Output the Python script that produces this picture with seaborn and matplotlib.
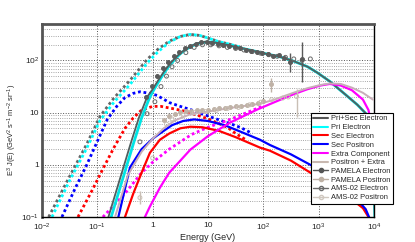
import numpy as np
import pandas as pd
import matplotlib
matplotlib.use("Agg")
import matplotlib.pyplot as plt
import seaborn as sns
from matplotlib.lines import Line2D
from matplotlib.ticker import LogLocator, FuncFormatter, NullFormatter

# ---- model curves, log10(E/GeV) and log10(E^3 J) ----
# unmodulated (dotted)
tot_lis_logE = [-1.88, -1.5, -1.2, -0.95, -0.7, -0.41, -0.1, 0.1, 0.3, 0.5, 0.68, 0.85, 1.0, 1.2, 1.4, 1.6]
tot_lis_logJ = [-1.0, -0.22, 0.38, 0.93, 1.28, 1.62, 2.02, 2.22, 2.37, 2.46, 2.5, 2.48, 2.43, 2.36, 2.31, 2.25]
pri_lis_logE = [-1.82, -1.5, -1.2, -0.95, -0.7, -0.41, -0.1, 0.1, 0.3, 0.5, 0.68, 0.85, 1.0, 1.2, 1.4, 1.6]
pri_lis_logJ = [-1.0, -0.3, 0.3, 0.85, 1.2, 1.54, 1.95, 2.17, 2.35, 2.46, 2.5, 2.48, 2.43, 2.36, 2.31, 2.25]
sece_lis_logE = [-1.35, -1.1, -0.9, -0.7, -0.5, -0.35, -0.2, 0.0, 0.15, 0.35, 0.62, 1.0, 1.35, 1.5, 1.7]
sece_lis_logJ = [-1.0, -0.5, -0.08, 0.33, 0.7, 0.9, 1.05, 1.12, 1.12, 1.08, 1.02, 0.88, 0.72, 0.6, 0.47]
secp_lis_logE = [-1.64, -1.4, -1.2, -1.0, -0.82, -0.65, -0.5, -0.35, -0.23, -0.05, 0.08, 0.31, 0.5, 0.68, 1.04, 1.45, 1.6, 1.8]
secp_lis_logJ = [-1.0, -0.45, -0.02, 0.45, 0.87, 1.12, 1.29, 1.37, 1.4, 1.37, 1.33, 1.19, 1.12, 1.06, 0.92, 0.77, 0.71, 0.6]
extra_lis_logE = [-0.9, -0.5, -0.2, 0.0, 0.3, 0.7, 1.0, 1.4, 1.7, 2.0]
extra_lis_logJ = [-1.0, -0.55, -0.15, 0.05, 0.3, 0.58, 0.72, 0.87, 1.0, 1.13]

# modulated (solid)
tot_logE = [-0.8, -0.6, -0.4, -0.25, -0.1, 0.0, 0.1, 0.2, 0.3, 0.4, 0.5, 0.6, 0.7, 0.8, 0.95, 1.1, 1.3,
            1.5, 1.8, 2.0, 2.3, 2.54, 2.8, 2.97, 3.2, 3.48, 3.7, 3.93, 3.97, 4.0, 4.02]
tot_logJ = [-1.0, -0.3, 0.4, 0.9, 1.3, 1.45, 1.62, 1.78, 1.92, 2.04, 2.14, 2.22, 2.28, 2.33, 2.36, 2.35, 2.31,
            2.26, 2.19, 2.14, 2.07, 1.99, 1.88, 1.77, 1.6, 1.35, 1.15, 0.9, 0.5, -0.3, -1.2]
pri_logE = [-0.75, -0.55, -0.35, -0.2, -0.07, 0.0, 0.1, 0.2, 0.3, 0.4, 0.5, 0.6, 0.7, 0.8, 0.95, 1.1, 1.3,
            1.5, 1.8, 2.0, 2.3, 2.54, 2.8, 2.97, 3.2, 3.48, 3.7, 3.93, 3.97, 4.0, 4.02]
pri_logJ = [-1.0, -0.3, 0.4, 0.9, 1.25, 1.4, 1.58, 1.75, 1.9, 2.02, 2.13, 2.21, 2.27, 2.32, 2.35, 2.35, 2.31,
            2.26, 2.19, 2.14, 2.07, 1.99, 1.88, 1.77, 1.6, 1.35, 1.15, 0.9, 0.5, -0.3, -1.2]
sece_logE = [-0.5, -0.35, -0.2, -0.05, 0.13, 0.3, 0.5, 0.68, 0.9, 1.2, 1.5, 1.94, 2.12, 2.5, 2.85, 3.2, 3.5, 3.8, 3.93]
sece_logJ = [-1.0, -0.55, -0.15, 0.23, 0.48, 0.6, 0.7, 0.73, 0.72, 0.65, 0.53, 0.33, 0.27, 0.08, -0.15, -0.38, -0.58, -0.83, -1.05]
secp_logE = [-0.62, -0.41, -0.2, 0.0, 0.13, 0.35, 0.55, 0.75, 1.0, 1.3, 1.6, 1.94, 2.12, 2.5, 2.85, 3.2, 3.5, 3.75, 3.85, 3.95]
secp_logJ = [-1.0, -0.05, 0.3, 0.5, 0.6, 0.76, 0.84, 0.87, 0.84, 0.76, 0.63, 0.48, 0.38, 0.2, 0.0, -0.2, -0.38, -0.73, -0.85, -1.1]
extra_logE = [-0.14, -0.05, 0.13, 0.3, 0.5, 0.68, 1.0, 1.4, 1.89, 2.2, 2.54, 2.8, 3.03, 3.2, 3.4, 3.6, 3.8, 3.9, 3.97, 4.01]
extra_logJ = [-1.0, -0.8, -0.44, -0.15, 0.08, 0.29, 0.55, 0.81, 1.06, 1.2, 1.35, 1.45, 1.52, 1.55, 1.52, 1.43, 1.25, 1.05, 0.7, -0.5]
posx_logE = [-0.68, -0.45, -0.2, 0.0, 0.2, 0.4, 0.68, 1.0, 1.4, 1.94, 2.2, 2.54, 2.8, 3.03, 3.2, 3.4, 3.6, 3.8, 3.98]
posx_logJ = [-1.0, -0.2, 0.25, 0.5, 0.7, 0.85, 0.97, 1.02, 1.09, 1.17, 1.25, 1.38, 1.47, 1.53, 1.56, 1.55, 1.48, 1.38, 1.25]

# ---- measurements ----
pam_e_logE = [-0.12, -0.02, 0.08, 0.18, 0.28, 0.38, 0.48, 0.58, 0.68, 0.78, 0.88, 0.98, 1.08, 1.18, 1.28,
              1.38, 1.48, 1.58, 1.68, 1.78, 1.88, 1.98, 2.08, 2.18, 2.28, 2.38, 2.48, 2.7]
pam_e_logJ = [1.3, 1.52, 1.7, 1.86, 1.98, 2.08, 2.16, 2.23, 2.28, 2.32, 2.35, 2.35, 2.34, 2.32, 2.3,
              2.28, 2.25, 2.23, 2.21, 2.18, 2.16, 2.15, 2.12, 2.08, 2.1, 2.04, 1.97, 2.02]
pam_e_lo = [None] * 26 + [1.77, 1.58]
pam_e_hi = [None] * 26 + [2.15, 2.35]

ams_e_logE = [-0.23, -0.1, 0.04, 0.15, 0.25, 0.35, 0.45, 0.6, 0.75, 0.9, 1.05, 1.2, 1.35, 1.5,
              1.65, 1.8, 1.95, 2.1, 2.25, 2.4, 2.55, 2.7, 2.85]
ams_e_logJ = [0.44, 0.98, 1.21, 1.5, 1.7, 1.88, 2.0, 2.15, 2.25, 2.3, 2.3, 2.28, 2.25, 2.23,
              2.2, 2.17, 2.14, 2.11, 2.08, 2.06, 2.03, 2.0, 2.03]

pam_p_logE = [0.2, 0.3, 0.4, 0.5, 0.6, 0.7, 0.8, 0.9, 1.0, 1.1, 1.2, 1.3, 1.4, 1.5, 1.6, 1.7, 1.8, 1.9, 2.0, 2.14]
pam_p_logJ = [0.85, 0.93, 0.98, 1.01, 1.03, 1.04, 1.05, 1.05, 1.06, 1.07, 1.08, 1.09, 1.1, 1.12, 1.13, 1.15, 1.17, 1.19, 1.22, 1.55]
pam_p_lo = [None] * 19 + [1.4]
pam_p_hi = [None] * 19 + [1.67]

ams_p_logE = [-0.23, 0.0, 0.25, 0.35, 0.55, 0.75, 0.95, 1.15, 1.35, 1.55, 1.75, 1.95, 2.15, 2.35, 2.45, 2.6]
ams_p_logJ = [-0.63, 0.13, 0.78, 0.88, 0.95, 1.0, 1.02, 1.04, 1.08, 1.1, 1.15, 1.2, 1.25, 1.28, 1.3, 1.31]
ams_p_lo = [-0.75] + [None] * 14 + [0.92]
ams_p_hi = [-0.5] + [None] * 14 + [1.45]

x_ticks = [1e-2, 1e-1, 1, 10, 1e2, 1e3, 1e4]
y_ticks = [0.1, 1, 10, 100]

# ---- style ----
sns.set_style("white")
plt.rcParams["font.family"] = ["Liberation Sans", "DejaVu Sans"]
plt.rcParams["mathtext.default"] = "regular"

fig = plt.figure(figsize=(4.15, 2.42), dpi=100)
ax = fig.add_axes([42 / 415, 25 / 242, 332 / 415, 193 / 242])


def draw(logE, logJ, color, ls="-", lw=1.4, z=2):
    d = pd.DataFrame({"E": np.power(10.0, logE), "J": np.power(10.0, logJ)})
    sns.lineplot(data=d, x="E", y="J", ax=ax, color=color, linestyle=ls, lw=lw,
                 sort=False, estimator=None, zorder=z)


dot = (0, (1, 1))
draw(tot_lis_logE, tot_lis_logJ, "#666666", dot, 2.0)
draw(pri_lis_logE, pri_lis_logJ, "#00ffff", dot, 2.0)
draw(secp_lis_logE, secp_lis_logJ, "#0000ff", dot, 2.0)
draw(sece_lis_logE, sece_lis_logJ, "#ff0000", dot, 2.0)
draw(extra_lis_logE, extra_lis_logJ, "#ff00ff", dot, 2.0)

draw(pri_logE, pri_logJ, "#00e5e5", "-", 2.0)
draw(tot_logE, tot_logJ, "#4f5f5f", "-", 1.3)
draw(sece_logE, sece_logJ, "#ff0000", "-", 1.6)
draw(secp_logE, secp_logJ, "#0000ff", "-", 1.6)
draw(extra_logE, extra_logJ, "#ff00ff", "-", 1.6)
draw(posx_logE, posx_logJ, "#c8aeb8", "-", 1.4, 3)


def points(logE, logJ, lo, hi, color, filled):
    d = pd.DataFrame({"E": np.power(10.0, logE), "J": np.power(10.0, logJ)})
    for e, l, h in zip(d["E"], lo, hi):
        if l is not None:
            ax.vlines(e, 10 ** l, 10 ** h, color=color, lw=1.0, zorder=4)
    sns.scatterplot(data=d, x="E", y="J", ax=ax, s=8, marker="o",
                    facecolor=color if filled else "none", edgecolor=color,
                    linewidth=0.7, zorder=5)


points(pam_p_logE, pam_p_logJ, pam_p_lo, pam_p_hi, "#bfb2a6", True)
points(ams_p_logE, ams_p_logJ, ams_p_lo, ams_p_hi, "#c9bfb5", False)
points(ams_e_logE, ams_e_logJ, [None] * len(ams_e_logE), [None] * len(ams_e_logE), "#6a6a6a", False)
points(pam_e_logE, pam_e_logJ, pam_e_lo, pam_e_hi, "#5a5a5a", True)

ax.set(xscale="log", yscale="log", xlim=(1e-2, 1e4), ylim=(0.1, 500))
ax.set_xticks(x_ticks)
ax.set_yticks(y_ticks)


def fmt(v, pos):
    e = int(round(np.log10(v)))
    if e == 0:
        return "1"
    if e == 1:
        return "10"
    return r"$10^{%d}$" % e


ax.xaxis.set_major_formatter(FuncFormatter(fmt))
ax.yaxis.set_major_formatter(FuncFormatter(fmt))
ax.xaxis.set_minor_locator(LogLocator(base=10, subs=np.arange(2, 10), numticks=20))
ax.yaxis.set_minor_locator(LogLocator(base=10, subs=np.arange(2, 10), numticks=20))
ax.xaxis.set_minor_formatter(NullFormatter())
ax.yaxis.set_minor_formatter(NullFormatter())
ax.tick_params(which="both", direction="in", labelsize=6, color="#333333")
ax.tick_params(axis="x", pad=3.5)
ax.tick_params(axis="y", pad=2)
ax.tick_params(which="major", length=5, width=0.8)
ax.tick_params(which="minor", length=2.5, width=0.6)

ax.grid(which="major", linestyle=":", color="#555555", lw=0.7)
ax.yaxis.grid(which="minor", linestyle=":", color="#888888", lw=0.6)
ax.set_axisbelow(True)

for side in ["top", "left"]:
    ax.spines[side].set_color("#555555")
    ax.spines[side].set_linewidth(2.0)
for side in ["right", "bottom"]:
    ax.spines[side].set_color("black")
    ax.spines[side].set_linewidth(1.0)

ax.set_xlabel("Energy (GeV)", fontsize=6.5, labelpad=0)
ax.set_ylabel(r"E$^{3}$ J(E) (GeV$^{2}$ s$^{-1}$ m$^{-2}$ sr$^{-1}$)", fontsize=5.4)
ax.yaxis.set_label_coords(-0.068, 0.45)

handles = [
    Line2D([], [], color="#555555", lw=1.5),
    Line2D([], [], color="#00ffff", lw=1.5),
    Line2D([], [], color="#ff0000", lw=1.5),
    Line2D([], [], color="#0000ff", lw=1.5),
    Line2D([], [], color="#ff00ff", lw=1.5),
    Line2D([], [], color="#c8b8b0", lw=1.5),
    Line2D([], [], color="#555555", lw=1.0, marker="o", ms=3),
    Line2D([], [], color="#bfb2a6", lw=1.0, marker="o", ms=3),
    Line2D([], [], color="#6a6a6a", lw=1.0, marker="o", ms=3, mfc="none"),
    Line2D([], [], color="#d0c8c0", lw=1.0, marker="o", ms=3, mfc="none"),
]
labels = ["Pri+Sec Electron", "Pri Electron", "Sec Electron", "Sec Positron", "Extra Component",
          "Positron + Extra", "PAMELA Electron", "PAMELA Positron", "AMS-02 Electron", "AMS-02 Positron"]
leg = fig.legend(handles, labels, loc="upper left", bbox_to_anchor=(311 / 415, 1 - 113 / 242),
                 fontsize=5.4, frameon=True, fancybox=False, edgecolor="black", framealpha=1,
                 handlelength=2.0, handletextpad=0.4, labelspacing=0.2, borderpad=0.3,
                 borderaxespad=0)
leg.get_frame().set_linewidth(0.8)

fig.savefig("out.png", dpi=100)
